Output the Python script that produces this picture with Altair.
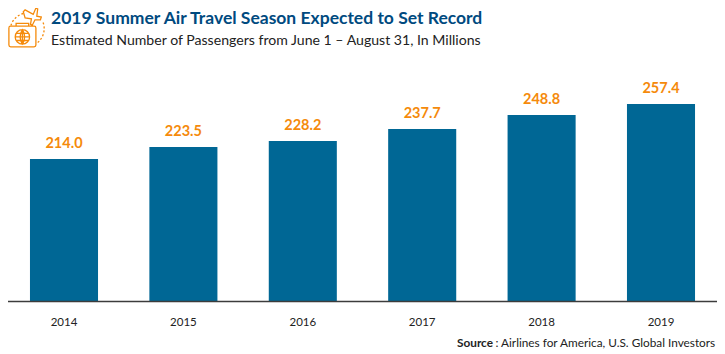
import altair as alt
import pandas as pd

years = ["2014", "2015", "2016", "2017", "2018", "2019"]
values = [214.0, 223.5, 228.2, 237.7, 248.8, 257.4]
labels = ["214.0", "223.5", "228.2", "237.7", "248.8", "257.4"]
title = "2019 Summer Air Travel Season Expected to Set Record"
subtitle = "Estimated Number of Passengers from June 1 \u2013 August 31, In Millions"
source_bold = "Source"
source_rest = ": Airlines for America, U.S. Global Investors"
y_base = 102

FONT = "Lato"
BLUE = "#006795"
ORANGE = "#f58a0b"
NAVY = "#004a7f"

ICON_SOLID = (
    "M-17 -1 H9 Q11 -1 11 1 V20 Q11 22 9 22 H-17 Q-19 22 -19 20 V1 Q-19 -1 -17 -1 Z "
    "M-11 -1 V-4 H3 V-1 "
    "M4 11 A8 8 0 1 1 -12 11 A8 8 0 1 1 4 11 Z "
    "M-4 3 V19 M-12 11 H4 "
    "M-4 3 Q-9 11 -4 19 Q1 11 -4 3 Z "
    "M-11 7 H3 M-11 15 H3 "
    "M-3 -17 L-1 -19 L8 -14 L11 -21 L13 -20 L12 -12 L17 -11 L16 -8 L10 -8 L7 -2 L5 -3 L6 -9 L-1 -10 Z"
)
ICON_DASH = "M-3 -15 A20 20 0 0 0 -17 -1 M19 -5 A20 20 0 0 1 12 18"

df = pd.DataFrame({"year": years, "value": values, "label": labels})
x_scale = alt.Scale(domain=years, range=[-3.7, 712.7], paddingInner=0.43, paddingOuter=0.215)
y_scale = alt.Scale(domain=[y_base, 333.2], nice=False, zero=False)

x_axis = alt.Axis(
    title=None, labelAngle=0, ticks=False, labelFont=FONT, labelFontSize=11.5,
    labelColor="#222222", labelPadding=15, domainColor="#3c3c3c", domainWidth=1.5, grid=False,
    zindex=1,
)

bars = alt.Chart(df).mark_bar(color=BLUE).encode(
    x=alt.X("year:N", scale=x_scale, axis=x_axis, sort=years),
    y=alt.Y("value:Q", scale=y_scale, axis=None),
    y2=alt.Y2(datum=y_base),
)
text = alt.Chart(df).mark_text(
    font=FONT, fontSize=14.5, fontWeight="bold", color=ORANGE, baseline="alphabetic", dy=-11
).encode(
    x=alt.X("year:N", scale=x_scale, sort=years),
    y=alt.Y("value:Q", scale=y_scale),
    text="label:N",
)


def caption(s, x, y, size, color, weight="normal", align="left"):
    return alt.Chart(pd.DataFrame({"t": [s]})).mark_text(
        font=FONT, fontSize=size, fontWeight=weight, color=color, align=align, baseline="alphabetic"
    ).encode(x=alt.value(x), y=alt.value(y), text="t:N")


def icon(path, dash=None):
    kw = {"strokeDash": dash} if dash else {}
    return alt.Chart(pd.DataFrame({"i": [0]})).mark_point(
        shape=path, size=3.24, filled=False, stroke=ORANGE, strokeWidth=1.3, opacity=1, **kw
    ).encode(x=alt.value(18), y=alt.value(19))


chart = alt.layer(
    bars,
    text,
    caption(title, 43, 16, 17.5, NAVY, "bold"),
    caption(subtitle, 43, 37, 14.1, "#222222"),
    caption(source_bold, 449, 339, 11.8, "#222222", "bold"),
    caption(source_rest, 487.5, 339, 11.8, "#222222"),
    icon(ICON_SOLID),
    icon(ICON_DASH, [2, 2]),
).properties(
    width=709,
    height=293,
    padding={"left": 0, "top": 0, "right": 0, "bottom": 53},
    autosize=alt.AutoSizeParams(type="none"),
).configure_view(stroke=None)

chart.save("out.html", embed_options={"renderer": "svg", "actions": False})
